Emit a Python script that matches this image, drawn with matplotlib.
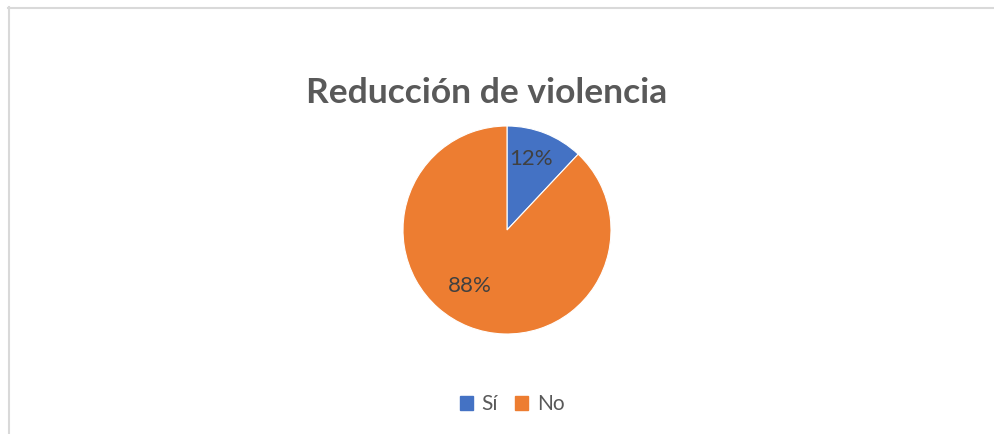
import matplotlib
matplotlib.use("Agg")
import matplotlib.pyplot as plt
from matplotlib.lines import Line2D
from matplotlib.patches import Patch

categories = ["Sí", "No"]
values = [12, 88]
colors = ["#4472C4", "#ED7D31"]
title = "Reducción de violencia"

W, H = 994, 434
fig = plt.figure(figsize=(W / 100, H / 100), dpi=100)
fig.patch.set_facecolor("white")

# frame lines (top and left visible)
fig.add_artist(Line2D([8 / W, 1], [1 - 7.5 / H, 1 - 7.5 / H], color="#D9D9D9", lw=1.5, transform=fig.transFigure))
fig.add_artist(Line2D([8.5 / W, 8.5 / W], [0, 1 - 7 / H], color="#D9D9D9", lw=1.5, transform=fig.transFigure))

cx, cy, r = 507, 230, 104
ax = fig.add_axes([(cx - r) / W, (H - cy - r) / H, 2 * r / W, 2 * r / H])
wedges, texts, autotexts = ax.pie(
    values, colors=colors, startangle=90, counterclock=False,
    autopct=lambda p: f"{p:.0f}%", pctdistance=0.7,
    wedgeprops=dict(linewidth=0.8, edgecolor="white"),
    textprops=dict(fontsize=16, color="#404040", family="Lato"),
)
ax.set_xlim(-1, 1)
ax.set_ylim(-1, 1)
# label positions as in reference
autotexts[0].set_position((0.23, 0.68))
autotexts[1].set_position((-0.36, -0.54))

fig.text(487 / W, 1 - 93 / H, title, ha="center", va="center",
         fontsize=25.5, fontweight="bold", color="#595959", family="Lato")

handles = [Patch(facecolor=c, edgecolor=c) for c in colors]
fig.legend(handles, categories, loc="center", bbox_to_anchor=(512 / W, 1 - 404 / H),
           ncol=2, frameon=False, prop=dict(family="Lato", size=15),
           labelcolor="#595959", handlelength=0.65, handleheight=0.65,
           handletextpad=0.4, columnspacing=0.8)

fig.savefig("out.png", dpi=100, facecolor="white")
